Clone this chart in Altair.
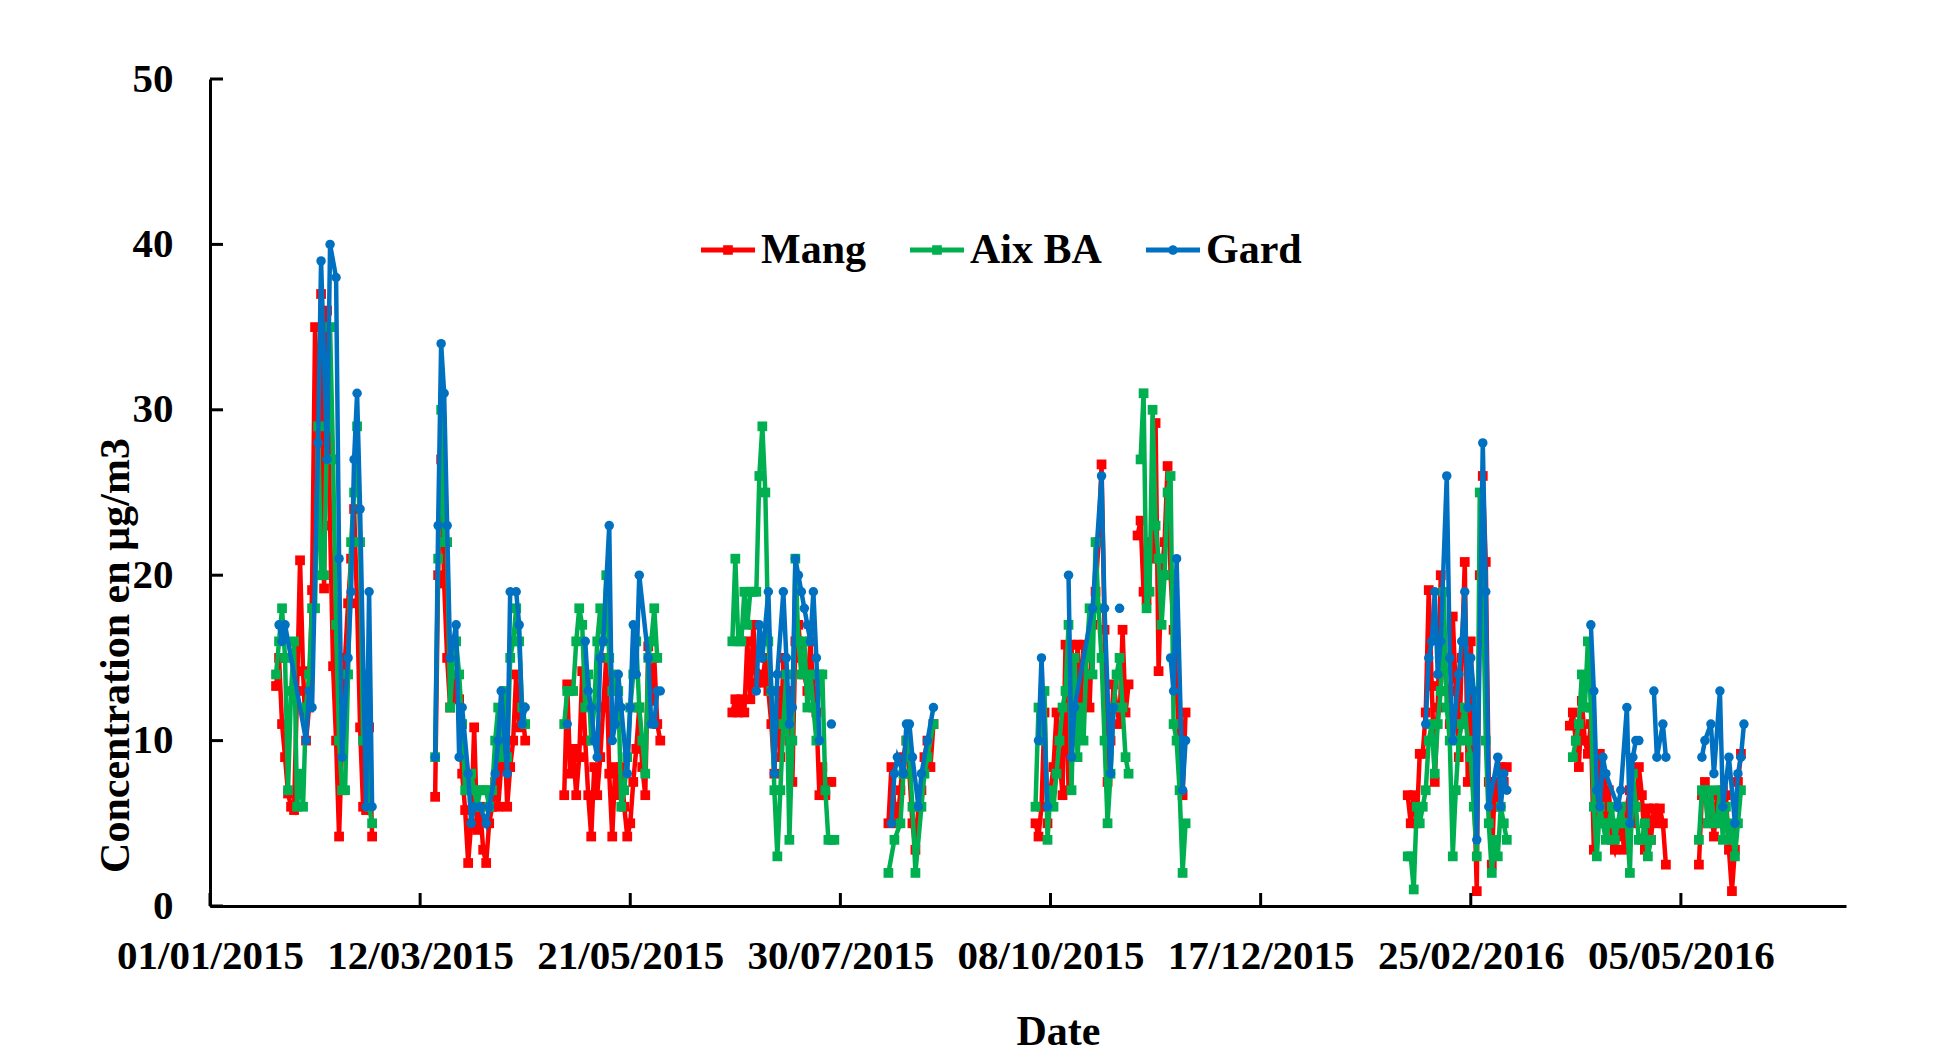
import altair as alt
import pandas as pd

SERIES = ["Mang", "Aix BA", "Gard"]
COLORS = ["#FF0000", "#00B050", "#0070C0"]
TICK_DAYS = [0, 70, 140, 210, 280, 350, 420, 490]   # days since 01/01/2015
Y_TICKS = [0, 10, 20, 30, 40, 50]
X_MAX = 545

# (day since 01/01/2015, concentration); None = break in the line
MANG = [
    (22, 13.3), (23, 15), (24, 11), (25, 9), (26, 6.8), (27, 6), (28, 5.8), (29, 13), (30, 20.9), (31, 14.2),
    (32, 10), (33, 12), (34, 19.1), (35, 35), (36, 28), (37, 37), (38, 19.2), (39, 36), (40, 23), (41, 14.5),
    (42, 10), (43, 4.2), (44, 10), (45, 15), (46, 18.3), (47, 21), (48, 24), (49, 18.3), (50, 10.8), (51, 6),
    (52, 5.8), (53, 10.8), (54, 4.2), None,
    (75, 6.6), (76, 20), (77, 27), (78, 19.5), (79, 15), (80, 12), (81, 14), (82, 12.5), (83, 12.5), (84, 8),
    (85, 5.8), (86, 2.6), (87, 5), (88, 10.8), (89, 4.6), (90, 6), (91, 3.4), (92, 2.6), (93, 5), (94, 6),
    (95, 7.5), (96, 6), (97, 8.4), (98, 11), (99, 6), (100, 8.4), (101, 10), (102, 14), (103, 10.8), (104, 12),
    (105, 10), None,
    (118, 6.7), (119, 13.4), (120, 8), (121, 9.5), (122, 6.7), (123, 9), (124, 14.2), (125, 10), (126, 6.7),
    (127, 4.2), (128, 8.4), (129, 6.7), (130, 9), (131, 12), (132, 15), (133, 8), (134, 4.2), (135, 8.4),
    (136, 6.7), (137, 8.4), (138, 6), (139, 4.2), (140, 5), (141, 7.5), (142, 9.5), (143, 12), (144, 8.4),
    (145, 6.7), (146, 15.7), (147, 12.4), (148, 15), (149, 11), (150, 10), None,
    (174, 11.7), (175, 12.5), (176, 11.7), (177, 12.5), (178, 11.7), (179, 16), (180, 12.5), (181, 17),
    (182, 13.5), (183, 14), (184, 13.5), (185, 15), (186, 13), (187, 11), (188, 8), (189, 13), (190, 9),
    (191, 15), (192, 13), (193, 10), (194, 7.5), (195, 16), (196, 17), (197, 15), (198, 14), (199, 13),
    (200, 16), (201, 13), (202, 11.7), (203, 6.7), (204, 8.4), (205, 6.7), (206, 7.5), (207, 7.5), None,
    (226, 5), (227, 8.4), (228, 6), (229, 5), (230, 7), (231, 9), (232, 10), (233, 8), (234, 5), (235, 3.4),
    (236, 6), (237, 7), (238, 9), (239, 10), (240, 8.4), (241, 11), None,
    (275, 5), (276, 4.2), (277, 6), (278, 11.7), (279, 5), (280, 7), (281, 8.4), (282, 11.7), (283, 9),
    (284, 6.7), (285, 15.8), (286, 7), (287, 15.8), (288, 10), (289, 15.8), (290, 12), (291, 15.8), (292, 14),
    (293, 12), (294, 17), (295, 19), (296, 22), (297, 26.7), (298, 16.7), (299, 7.5), (300, 10), (301, 13.4),
    (302, 12), (303, 11), (304, 16.7), (305, 11.7), (306, 13.4), None,
    (309, 22.4), (310, 23.3), (311, 19), (312, 18.5), (313, 22), (314, 21), (315, 29.2), (316, 14.2),
    (317, 20), (318, 22), (319, 26.6), (320, 20), (321, 16.7), (322, 13), (323, 10), (324, 6.7), (325, 11.7), None,
    (399, 6.7), (400, 5), (401, 6.7), (402, 5), (403, 9.2), (404, 9.2), (405, 11.7), (406, 19.1), (407, 13.3),
    (408, 7.5), (409, 12), (410, 20), (411, 15), (412, 13), (413, 11), (414, 17.5), (415, 13), (416, 9),
    (417, 15), (418, 20.8), (419, 7.5), (420, 16), (421, 8), (422, 0.9), (423, 20), (424, 26), (425, 20.8),
    (426, 7.5), (427, 2.5), (428, 7.5), (429, 6), (430, 8.4), (431, 7.5), (432, 8.4), None,
    (453, 10.9), (454, 11.7), (455, 10), (456, 8.4), (457, 12.4), (458, 10), (459, 9.2), (460, 11), (461, 3.4),
    (462, 7), (463, 9.2), (464, 7.5), (465, 5), (466, 7), (467, 4), (468, 3.4), (469, 4.2), (470, 6),
    (471, 3.4), (472, 6), (473, 7), (474, 5), (475, 6), (476, 8.4), (477, 6.7), (478, 3.4), (479, 5.9),
    (480, 4), (481, 5.9), (482, 5), (483, 5.9), (484, 5), (485, 2.5), None,
    (496, 2.5), (497, 6.7), (498, 7.5), (499, 5), (500, 6), (501, 4.2), (502, 6.7), (503, 5), (504, 7),
    (505, 6.7), (506, 3.4), (507, 0.9), (508, 3.4), (509, 7.5), (510, 9.2),
]

AIX = [
    (22, 14), (23, 16), (24, 18), (25, 15), (26, 7), (27, 13), (28, 16), (29, 6), (30, 8), (31, 6), (32, 12),
    (33, 14), (34, 18), (35, 18), (36, 29), (37, 20), (38, 20), (39, 29), (40, 35), (41, 27), (42, 17),
    (43, 10), (44, 7), (45, 7), (46, 14), (47, 22), (48, 25), (49, 29), (50, 22), (51, 10), (52, 14), (53, 6),
    (54, 5), None,
    (75, 9), (76, 21), (77, 30), (78, 22), (79, 22), (80, 12), (81, 15), (82, 16), (83, 14), (84, 11), (85, 7),
    (86, 7), (87, 8), (88, 7), (89, 6), (90, 7), (91, 7), (92, 7), (93, 6), (94, 7), (95, 10), (96, 12),
    (97, 9), (98, 13), (99, 9), (100, 15), (101, 16), (102, 18), (103, 16), (104, 12), (105, 11), None,
    (118, 11), (119, 13), (120, 13), (121, 13), (122, 16), (123, 18), (124, 17), (125, 12), (126, 14),
    (127, 10), (128, 12), (129, 16), (130, 18), (131, 16), (132, 20), (133, 15), (134, 13), (135, 14),
    (136, 13), (137, 6), (138, 7), (139, 9), (140, 12), (141, 14), (142, 16), (143, 12), (144, 10), (145, 8),
    (146, 15), (147, 16), (148, 18), (149, 15), None,
    (174, 16), (175, 21), (176, 16), (177, 16), (178, 19), (179, 17), (180, 19), (181, 19), (182, 19),
    (183, 26), (184, 29), (185, 25), (186, 16), (187, 13), (188, 7), (189, 3), (190, 7), (191, 11), (192, 14),
    (193, 4), (194, 10), (195, 21), (196, 16), (197, 14), (198, 16), (199, 12), (200, 14), (201, 12),
    (202, 10), (203, 14), (204, 14), (205, 7), (206, 4), (207, 4), (208, 4), None,
    (226, 2), (228, 4), (230, 5), (231, 8), (232, 10), (233, 9), (234, 6), (235, 2), (237, 6), (238, 8),
    (239, 9), (241, 11), None,
    (275, 6), (276, 12), (277, 10), (278, 13), (279, 4), (280, 7), (281, 6), (282, 8), (283, 10), (284, 12),
    (285, 13), (286, 17), (287, 7), (288, 15), (289, 9), (290, 12), (291, 10), (292, 15), (293, 18),
    (294, 14), (295, 22), (296, 18), (297, 15), (298, 10), (299, 5), (300, 8), (301, 12), (302, 14),
    (303, 15), (304, 12), (305, 9), (306, 8), None,
    (310, 27), (311, 31), (312, 18), (313, 19), (314, 30), (315, 23), (316, 21), (317, 17), (318, 20),
    (319, 25), (320, 26), (321, 11), (322, 10), (323, 7), (324, 2), (325, 5), None,
    (399, 3), (400, 3), (401, 1), (402, 6), (403, 5), (404, 6), (405, 7), (406, 10), (407, 11), (408, 8),
    (409, 11), (410, 13), (411, 19), (412, 12), (413, 10), (414, 3), (415, 7), (416, 10), (417, 11),
    (418, 12), (419, 10), (420, 9), (421, 6), (422, 3), (423, 25), (424, 20), (425, 10), (426, 5), (427, 2),
    (428, 4), (429, 3), (430, 6), (431, 5), (432, 4), None,
    (454, 9), (455, 10), (456, 11), (457, 14), (458, 12), (459, 16), (460, 12), (461, 6), (462, 3), (463, 6),
    (464, 5), (465, 4), (466, 5), (467, 6), (468, 4), (469, 5), (470, 6), (471, 5), (472, 5), (473, 2),
    (474, 8), (475, 6), (476, 4), (477, 4), (478, 5), (479, 3), (480, 4), None,
    (496, 4), (497, 7), (498, 7), (499, 5), (500, 7), (501, 5), (502, 5), (503, 7), (504, 4), (505, 6),
    (506, 4), (507, 5), (508, 3), (509, 5), (510, 7),
]

GARD = [
    (23, 17), (24, 16), (25, 17), (32, 10), (33, 13), (34, 12), (36, 28), (37, 39), (39, 27), (40, 40),
    (42, 38), (43, 21), (44, 9), (46, 15), (47, 19), (48, 27), (49, 31), (50, 24), (52, 6), (53, 19),
    (54, 6), None,
    (75, 9), (76, 23), (77, 34), (78, 31), (79, 23), (80, 15), (82, 17), (83, 9), (84, 12), (86, 8), (87, 5),
    (88, 6), (90, 6), (92, 5), (93, 6), (95, 8), (96, 10), (97, 13), (99, 8), (100, 19), (102, 19),
    (103, 17), (104, 11), (105, 12), None,
    (119, 11), None,
    (125, 16), (126, 13), (127, 12), (128, 10), (129, 9), (130, 15), (131, 16), (133, 23), (134, 10),
    (135, 11), (136, 14), (137, 12), (139, 8), (140, 12), (141, 17), (142, 14), (143, 20), (146, 15),
    (147, 11), (148, 11), (149, 13), (150, 13), None,
    (182, 13), (183, 17), (184, 15), (186, 19), (187, 13), (188, 8), (189, 14), (191, 19), (192, 15),
    (193, 11), (194, 12), (195, 21), (196, 20), (197, 19), (198, 18), (199, 17), (200, 16), (201, 19),
    (202, 15), (203, 10), None,
    (207, 11), None,
    (227, 5), (228, 8), (229, 9), (231, 8), (232, 11), (233, 11), (234, 9), (236, 6), (237, 8), (239, 10),
    (241, 12), None,
    (276, 10), (277, 15), (279, 6), None,
    (286, 20), (287, 9), (288, 12), (294, 18), (297, 26), (298, 18), (300, 8), (301, 12), None,
    (303, 18), None,
    (320, 15), (321, 13), (322, 21), (324, 7), (325, 10), None,
    (405, 11), (406, 15), (407, 16), (408, 19), (409, 14), (410, 16), (412, 26), (413, 15), (414, 10),
    (416, 14), (417, 16), (418, 19), (419, 12), (420, 15), (421, 13), (422, 4), (424, 28), (425, 19),
    (426, 6), (429, 9), (430, 6), (431, 8), (432, 7), None,
    (460, 17), (461, 13), (462, 7), (463, 6), (464, 9), (465, 8), (469, 6), (470, 7), (472, 12), (473, 5),
    (474, 9), (475, 10), (476, 10), None,
    (481, 13), (482, 9), (484, 11), (485, 9), None,
    (497, 9), (498, 10), (500, 11), (501, 8), (503, 13), (504, 6), (506, 9), (508, 5), (509, 8), (510, 9),
    (511, 11),
]

rows = []
for name, pts in zip(SERIES, [MANG, AIX, GARD]):
    seg = 0
    for p in pts:
        if p is None:
            seg += 1
            continue
        rows.append({"series": name, "seg": seg, "day": p[0], "v": p[1]})
df = pd.DataFrame(rows)

FONT = "Liberation Serif"
W, H = 1636, 827

x_axis = alt.Axis(
    values=TICK_DAYS,
    labelExpr="timeFormat(datetime(2015, 0, 1 + datum.value), '%d/%m/%Y')",
    title="Date", grid=False, ticks=True, tickSize=0,
    domainColor="black", domainWidth=3,
    labelFont=FONT, labelFontSize=41, labelFontWeight="bold", labelColor="black",
    labelPadding=30, labelOverlap=False, labelFlush=False, labelLimit=0,
    titleFont=FONT, titleFontSize=42, titleFontWeight="bold", titleColor="black",
    titleX=848, titleY=125, titleBaseline="middle",
)
y_axis = alt.Axis(
    values=Y_TICKS, title="Concentration en µg/m3", grid=False, ticks=True, tickSize=0,
    domainColor="black", domainWidth=3,
    labelFont=FONT, labelFontSize=41, labelFontWeight="bold", labelColor="black",
    labelPadding=37, labelLimit=0,
    titleFont=FONT, titleFontSize=42, titleFontWeight="bold", titleColor="black",
    titleX=-73, titleY=576, titleLimit=0,
)

xenc = alt.X("day:Q", scale=alt.Scale(domain=[0, X_MAX], nice=False, zero=False), axis=x_axis)
yenc = alt.Y("v:Q", scale=alt.Scale(domain=[0, 50], nice=False), axis=y_axis)

base = alt.Chart(df)
layers = []
for name, color in zip(SERIES, COLORS):
    sub = base.transform_filter(alt.datum.series == name)
    layers.append(sub.mark_line(strokeWidth=4.5, color=color).encode(x=xenc, y=yenc, detail="seg:N"))
    if name == "Gard":
        mk = sub.mark_circle(size=90, opacity=1, color=color)
    else:
        mk = sub.mark_square(size=95, opacity=1, color=color)
    layers.append(mk.encode(x=xenc, y=yenc))

SQ = "M-1,-0.09L1,-0.09L1,0.09L-1,0.09Z M-0.18,-0.18L0.18,-0.18L0.18,0.18L-0.18,0.18Z"
CI = "M-1,-0.09L1,-0.09L1,0.09L-1,0.09Z M-0.18,0A0.18,0.18 0 1,1 0.18,0A0.18,0.18 0 1,1 -0.18,0Z"

leg = alt.Legend(
    title=None, orient="none", legendX=491, legendY=144, direction="horizontal",
    labelFont=FONT, labelFontSize=42, labelFontWeight="bold", labelColor="black",
    symbolSize=2916, symbolStrokeWidth=0, symbolOpacity=1,
    columnPadding=44, labelOffset=6, labelLimit=0,
)
legend_layer = base.transform_filter("false").mark_point(filled=True, opacity=1, size=100).encode(
    x=xenc, y=yenc,
    color=alt.Color("series:N", scale=alt.Scale(domain=SERIES, range=COLORS), legend=leg),
    shape=alt.Shape("series:N", scale=alt.Scale(domain=SERIES, range=[SQ, SQ, CI]), legend=leg),
)
layers.append(legend_layer)

xticks = alt.Chart(pd.DataFrame({"day": TICK_DAYS})).mark_rule(color="black", strokeWidth=3).encode(
    x=xenc, y=alt.value(H), y2=alt.value(H - 13)
)
yticks = alt.Chart(pd.DataFrame({"v": Y_TICKS})).mark_rule(color="black", strokeWidth=3).encode(
    y=yenc, x=alt.value(0), x2=alt.value(13)
)
layers += [xticks, yticks]

chart = alt.layer(*layers).properties(
    width=W, height=H,
    autosize=alt.AutoSizeParams(type="none"),
    padding={"left": 202, "top": 71, "right": 60, "bottom": 150},
).configure(background="white").configure_view(stroke=None)

chart.save("out.html", embed_options={"renderer": "svg", "actions": False})
